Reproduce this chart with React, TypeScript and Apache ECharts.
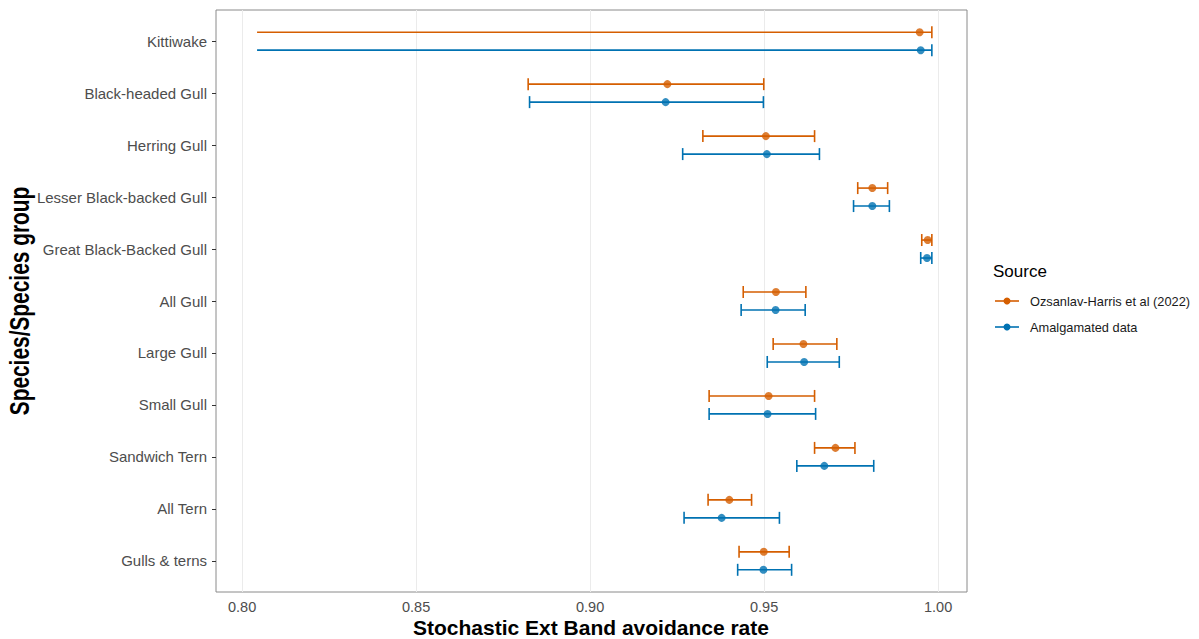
import React, { useEffect, useRef } from "react";
import * as echarts from "echarts";

const categories = [
  "Kittiwake",
  "Black-headed Gull",
  "Herring Gull",
  "Lesser Black-backed Gull",
  "Great Black-Backed Gull",
  "All Gull",
  "Large Gull",
  "Small Gull",
  "Sandwich Tern",
  "All Tern",
  "Gulls & terns",
];

const ozMid = [0.9947, 0.9222, 0.9505, 0.9811, 0.997, 0.9534, 0.9613, 0.9513, 0.9705, 0.94, 0.9499];
const ozLow = [0.8043, 0.8822, 0.9324, 0.9769, 0.9953, 0.944, 0.9526, 0.9342, 0.9645, 0.9339, 0.9428];
const ozHigh = [0.9982, 0.9499, 0.9645, 0.9855, 0.9982, 0.962, 0.9709, 0.9645, 0.9761, 0.9464, 0.9572];

const amMid = [0.995, 0.9217, 0.9508, 0.9811, 0.9968, 0.9533, 0.9615, 0.951, 0.9673, 0.9378, 0.9498];
const amLow = [0.8043, 0.8826, 0.9266, 0.9757, 0.995, 0.9434, 0.9509, 0.9342, 0.9594, 0.927, 0.9424];
const amHigh = [0.9982, 0.9498, 0.9659, 0.986, 0.9982, 0.9618, 0.9716, 0.9648, 0.9815, 0.9544, 0.9579];

const xTicks = [0.8, 0.85, 0.9, 0.95, 1.0];
const seriesNames = ["Ozsanlav-Harris et al (2022)", "Amalgamated data"];
const colors = ["#D55E00", "#0072B2"];
const dodge = [-0.173, 0.173];

const X_MIN = 0.7925;
const X_MAX = 1.0083;
const OPEN_LOWER = 0.805; // lower ends below this are drawn without a cap

function makeErrorSeries(idx: number, low: number[], high: number[]) {
  const color = colors[idx];
  return {
    type: "custom",
    name: seriesNames[idx],
    z: 3,
    encode: { x: [0, 1], y: 2 },
    data: low.map((l, i) => [l, high[i], i + dodge[idx]]),
    renderItem: (params: any, api: any) => {
      const lv = api.value(0);
      const lo = api.coord([lv, api.value(2)]);
      const hi = api.coord([api.value(1), api.value(2)]);
      const h = 6;
      const style = { stroke: color, lineWidth: 1.6 };
      const children: any[] = [
        { type: "line", shape: { x1: lo[0], y1: lo[1], x2: hi[0], y2: hi[1] }, style },
        { type: "line", shape: { x1: hi[0], y1: hi[1] - h, x2: hi[0], y2: hi[1] + h }, style },
      ];
      if (lv > OPEN_LOWER) {
        children.push({ type: "line", shape: { x1: lo[0], y1: lo[1] - h, x2: lo[0], y2: lo[1] + h }, style });
      }
      return { type: "group", children };
    },
  };
}

function makePointSeries(idx: number, mid: number[]) {
  return {
    type: "scatter",
    name: seriesNames[idx],
    z: 4,
    symbol: "circle",
    symbolSize: 8,
    itemStyle: { color: colors[idx] },
    data: mid.map((m, i) => [m, i + dodge[idx]]),
  };
}

export default function App() {
  const ref = useRef<HTMLDivElement>(null);
  useEffect(() => {
    if (!ref.current) return;
    const chart = echarts.init(ref.current, null, { renderer: "svg" });
    const legendX = 995;
    const legendY = [301, 327];
    const legendGraphics: any[] = [
      {
        type: "text",
        x: 993,
        y: 271,
        style: { text: "Source", fontSize: 17, fill: "#000", fontFamily: "Liberation Sans", verticalAlign: "middle" },
      },
      {
        type: "text",
        x: 19,
        y: 301,
        rotation: Math.PI / 2,
        scaleX: 0.746,
        style: {
          text: "Species/Species group",
          fontSize: 28,
          fontWeight: "bold",
          fill: "#000",
          fontFamily: "Liberation Sans",
          align: "center",
          verticalAlign: "middle",
        },
      },
      {
        type: "text",
        x: 591,
        y: 627,
        style: {
          text: "Stochastic Ext Band avoidance rate",
          fontSize: 21,
          fontWeight: "bold",
          fill: "#000",
          fontFamily: "Liberation Sans",
          align: "center",
          verticalAlign: "middle",
        },
      },
    ];
    seriesNames.forEach((n, i) => {
      legendGraphics.push(
        { type: "line", shape: { x1: legendX, y1: legendY[i], x2: legendX + 24, y2: legendY[i] }, style: { stroke: colors[i], lineWidth: 1.6 } },
        { type: "circle", shape: { cx: legendX + 12, cy: legendY[i], r: 3.5 }, style: { fill: colors[i] } },
        { type: "text", x: 1030, y: legendY[i], style: { text: n, fontSize: 12.8, fill: "#1a1a1a", fontFamily: "Liberation Sans", verticalAlign: "middle" } }
      );
    });

    chart.setOption({
      animation: false,
      backgroundColor: "#fff",
      grid: {
        left: 216,
        top: 10,
        width: 751,
        height: 582,
        show: true,
        borderColor: "#8a8a8a",
        borderWidth: 1,
        backgroundColor: "transparent",
        outerBoundsMode: "none",
        containLabel: false,
      },
      xAxis: {
        type: "value",
        min: X_MIN,
        max: X_MAX,
        axisLine: { show: false },
        axisTick: { show: true, length: 4, customValues: xTicks, lineStyle: { color: "#333" } },
        axisLabel: {
          customValues: xTicks,
          formatter: (v: number) => v.toFixed(2),
          color: "#4d4d4d",
          fontSize: 14.5,
          margin: 7,
          fontFamily: "Liberation Sans",
        },
        splitLine: { show: false },
      },
      yAxis: {
        type: "value",
        min: -0.6,
        max: 10.6,
        inverse: true,
        axisLine: { show: false },
        axisTick: { show: true, length: 4, customValues: categories.map((_, i) => i), lineStyle: { color: "#333" } },
        axisLabel: {
          customValues: categories.map((_, i) => i),
          formatter: (v: number) => categories[Math.round(v)] ?? "",
          color: "#4d4d4d",
          fontSize: 15,
          margin: 9,
          fontFamily: "Liberation Sans",
        },
        splitLine: { show: false },
      },
      graphic: legendGraphics,
      series: [
        {
          type: "scatter",
          data: [],
          silent: true,
          z: 1,
          markLine: {
            silent: true,
            z: 1,
            symbol: "none",
            label: { show: false },
            lineStyle: { color: "#ebebeb", width: 1, type: "solid" },
            data: xTicks.map((v) => ({ xAxis: v })),
          },
        },
        makeErrorSeries(0, ozLow, ozHigh),
        makeErrorSeries(1, amLow, amHigh),
        makePointSeries(0, ozMid),
        makePointSeries(1, amMid),
      ],
    });
    return () => chart.dispose();
  }, []);
  return <div ref={ref} style={{ width: 1199, height: 639, position: "absolute", left: 0, top: 0 }} />;
}
